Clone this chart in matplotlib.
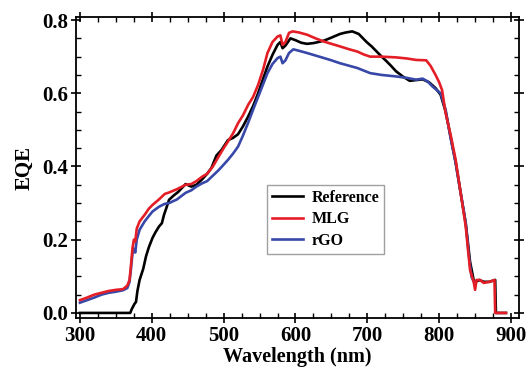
import matplotlib
matplotlib.use("Agg")
import matplotlib.pyplot as plt
from matplotlib.ticker import MultipleLocator

plt.rcParams['font.family'] = ['Liberation Serif', 'DejaVu Serif']
plt.rcParams['font.weight'] = 'bold'

# ---- data ----
ref_wl = [300, 370, 372, 376, 378, 380, 383, 388, 392, 396, 401, 405, 410, 414, 417, 420, 424, 430,
          437, 447, 455, 462, 470, 477, 483, 490, 497, 506, 513, 520, 527, 534, 541, 548, 555, 561,
          568, 575, 579, 582, 586, 593, 600, 608, 616, 625, 632, 640, 650, 662, 670, 679, 688, 699,
          706, 713, 720, 727, 733, 740, 750, 759, 768, 777, 786, 795, 802, 809, 816, 823, 830, 837,
          843, 848, 851, 856, 862, 870, 878, 879, 893]
ref_eqe = [0, 0, 0.01, 0.025, 0.03, 0.06, 0.09, 0.12, 0.155, 0.18, 0.205, 0.22, 0.236, 0.245, 0.268,
           0.285, 0.309, 0.32, 0.331, 0.352, 0.345, 0.35, 0.365, 0.38, 0.396, 0.43, 0.445, 0.472,
           0.478, 0.488, 0.51, 0.536, 0.565, 0.6, 0.64, 0.673, 0.705, 0.732, 0.74, 0.723, 0.73, 0.75,
           0.745, 0.738, 0.735, 0.737, 0.74, 0.744, 0.752, 0.762, 0.766, 0.769, 0.762, 0.74, 0.728,
           0.714, 0.70, 0.687, 0.675, 0.66, 0.645, 0.634, 0.636, 0.638, 0.63, 0.614, 0.596, 0.55,
           0.48, 0.41, 0.327, 0.245, 0.14, 0.09, 0.085, 0.09, 0.085, 0.085, 0.09, 0.0, 0.0]

mlg_wl = [300, 310, 320, 330, 340, 350, 360, 366, 369, 371, 373, 375, 377, 379, 383, 390, 396, 401,
          410, 418, 424, 435, 447, 455, 462, 470, 477, 485, 493, 500, 506, 513, 520, 527, 534, 541,
          548, 555, 561, 568, 575, 579, 582, 586, 591, 596, 605, 616, 628, 640, 650, 662, 675, 686,
          695, 704, 720, 740, 755, 768, 782, 788, 795, 800, 804, 809, 816, 823, 830, 837, 843, 848,
          850, 852, 857, 862, 870, 877, 878, 893]
mlg_eqe = [0.035, 0.042, 0.05, 0.055, 0.06, 0.063, 0.065, 0.075, 0.09, 0.13, 0.175, 0.2, 0.195, 0.23,
           0.25, 0.268, 0.285, 0.295, 0.31, 0.325, 0.329, 0.338, 0.35, 0.352, 0.36, 0.372, 0.38, 0.4,
           0.427, 0.45, 0.468, 0.49, 0.518, 0.54, 0.568, 0.59, 0.623, 0.665, 0.71, 0.74, 0.755, 0.758,
           0.732, 0.74, 0.765, 0.769, 0.766, 0.76, 0.75, 0.741, 0.735, 0.728, 0.72, 0.714, 0.706, 0.70,
           0.70, 0.698, 0.695, 0.691, 0.69, 0.675, 0.65, 0.63, 0.609, 0.546, 0.486, 0.418, 0.327,
           0.236, 0.117, 0.086, 0.063, 0.09, 0.09, 0.082, 0.085, 0.09, 0.0, 0.0]

rgo_wl = [300, 310, 320, 330, 340, 350, 360, 366, 369, 371, 373, 375, 377, 379, 383, 390, 396, 401,
          410, 418, 424, 435, 447, 455, 462, 470, 477, 485, 493, 500, 506, 513, 520, 527, 534, 541,
          548, 555, 561, 568, 575, 579, 582, 586, 591, 597, 605, 616, 628, 640, 650, 662, 675, 686,
          695, 704, 720, 740, 755, 768, 777, 784, 791, 802, 809, 816, 823, 830, 837, 841, 845, 848,
          851]
rgo_eqe = [0.028, 0.035, 0.042, 0.05, 0.055, 0.058, 0.062, 0.068, 0.085, 0.12, 0.16, 0.175, 0.165,
           0.2, 0.227, 0.25, 0.265, 0.277, 0.29, 0.298, 0.30, 0.31, 0.328, 0.335, 0.345, 0.354, 0.36,
           0.375, 0.39, 0.405, 0.418, 0.435, 0.454, 0.485, 0.519, 0.555, 0.59, 0.625, 0.655, 0.68,
           0.696, 0.70, 0.682, 0.69, 0.71, 0.72, 0.716, 0.71, 0.703, 0.696, 0.69, 0.682, 0.675, 0.669,
           0.662, 0.655, 0.65, 0.646, 0.642, 0.637, 0.64, 0.632, 0.618, 0.60, 0.555, 0.477, 0.41,
           0.327, 0.245, 0.163, 0.099, 0.086, 0.085]

fig = plt.figure(figsize=(5.26, 3.72), dpi=100)
ax = fig.add_axes([0.1445, 0.145, 0.842, 0.809])

ax.plot(ref_wl, ref_eqe, color='black', lw=1.9, label='Reference')
ax.plot(rgo_wl, rgo_eqe, color='#3848a8', lw=1.9, label='rGO')
ax.plot(mlg_wl, mlg_eqe, color='#e41e26', lw=1.9, label='MLG')

ax.set_xlim(294.5, 911)
ax.set_ylim(-0.014, 0.808)
ax.xaxis.set_major_locator(MultipleLocator(100))
ax.xaxis.set_minor_locator(MultipleLocator(25))
ax.yaxis.set_major_locator(MultipleLocator(0.2))
ax.yaxis.set_minor_locator(MultipleLocator(0.05))
ax.yaxis.set_major_formatter(matplotlib.ticker.FormatStrFormatter('%.1f'))

ax.tick_params(which='major', direction='inout', length=7, width=1.2, top=True, right=True,
               labelsize=15, pad=2)
ax.tick_params(which='minor', direction='in', length=3.5, width=1.0, top=True, right=True)
for s in ax.spines.values():
    s.set_linewidth(1.3)

ax.set_xlabel('Wavelength (nm)', fontsize=14.5, fontweight='bold', labelpad=1)
ax.set_ylabel('EQE', fontsize=15, fontweight='bold', labelpad=6)

h, l = ax.get_legend_handles_labels()
order = [0, 2, 1]
leg = ax.legend([h[i] for i in order], [l[i] for i in order], loc='upper left',
                bbox_to_anchor=(0.431, 0.442), borderaxespad=0, fancybox=False,
                edgecolor='#888888', handlelength=1.95, handletextpad=0.55,
                labelspacing=0.35, borderpad=0.3, prop={'weight': 'bold', 'size': 11.5})
leg.get_frame().set_linewidth(1.0)

fig.savefig('out.png', dpi=100)
